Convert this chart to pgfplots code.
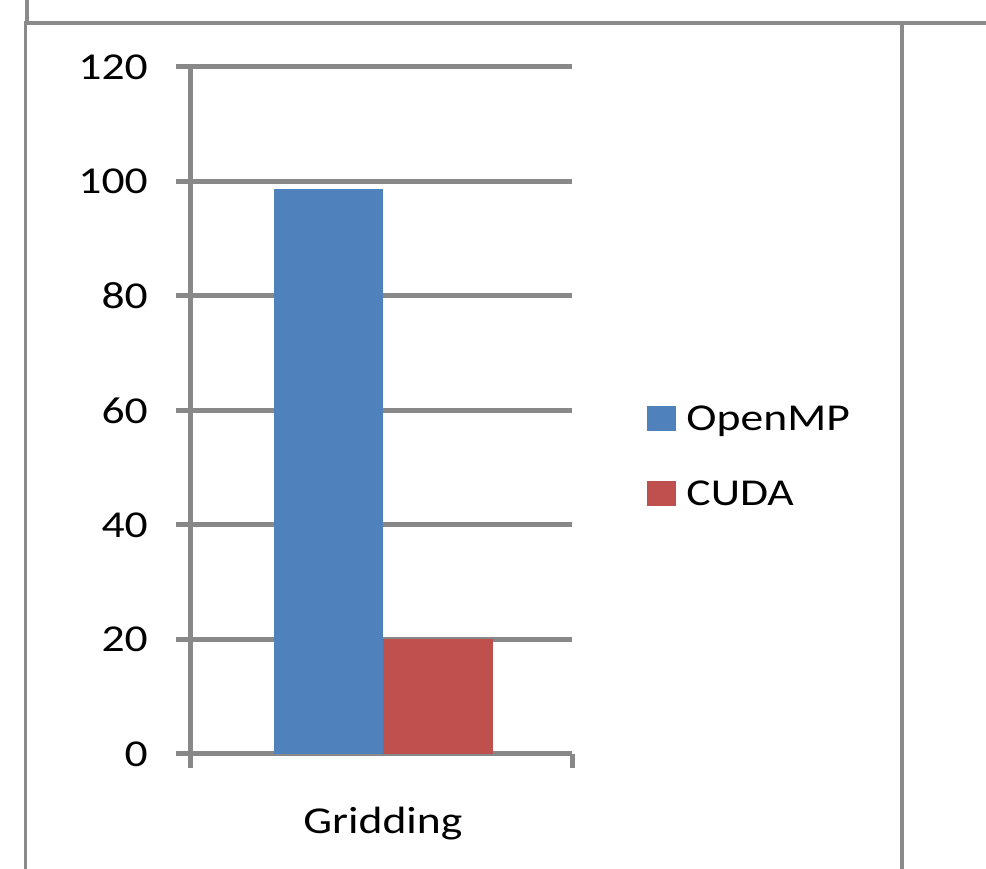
\documentclass[border=0pt]{standalone}
\usepackage{pgfplots}
\pgfplotsset{compat=1.18}
\usepackage{fontspec}
\setmainfont{Carlito}[FakeStretch=1.2]

\definecolor{framegray}{HTML}{8A8A8A}
\definecolor{axisgray}{HTML}{888888}
\definecolor{ompblue}{HTML}{4F81BD}
\definecolor{cudared}{HTML}{C0504D}

\begin{document}
\fontsize{38}{44}\selectfont
\begin{tikzpicture}[x=1pt,y=1pt]
  \useasboundingbox (0,0) rectangle (986,869);
  % surrounding frame
  \draw[framegray, line width=3.6pt] (24,846) -- (986,846);
  \draw[framegray, line width=3.6pt] (25.5,0) -- (25.5,847.8);
  \draw[framegray, line width=3.6pt] (27,846) -- (27,869);
  \draw[framegray, line width=3.6pt] (902,0) -- (902,847.8);

  \begin{axis}[
    at={(190pt,115pt)}, anchor=south west,
    scale only axis, width=382pt, height=687pt,
    xmin=-193, xmax=189, ymin=0, ymax=120,
    axis x line*=bottom, axis y line*=left,
    axis line style={axisgray, line width=5pt},
    ymajorgrids, grid style={axisgray, line width=5pt},
    ytick={0,20,...,120},
    xtick={-193,189}, xticklabels={},
    tick align=outside, major tick length=14pt,
    tick style={axisgray, line width=5pt},
    /pgf/number format/assume math mode=true,
    ticklabel style={font=\fontsize{38}{44}\selectfont},
    yticklabel style={anchor=east, inner sep=0pt, xshift=-28pt},
    xlabel={Gridding},
    xlabel style={at={(0.505,0)}, anchor=base, inner sep=0pt, yshift=-80pt,
      font=\fontsize{38}{44}\selectfont},
    ybar=0pt, bar width=109.5pt,
    legend style={draw=none, fill=none, inner sep=0pt, outer sep=0pt,
      at={(1.1963,0.5066)}, anchor=north west,
      font=\fontsize{38}{44}\selectfont,
      nodes={inner sep=0pt, text height=24pt, text depth=0pt},
      row sep=50pt, column sep=10.5pt},
    legend cell align=left,
    legend image code/.code={\path[#1] (0pt,-12.5pt) rectangle (29pt,12.5pt);},
  ]
    \addplot[fill=ompblue, draw=none] coordinates {(0,98.7)};
    \addplot[fill=cudared, draw=none] coordinates {(0,20.1)};
    \legend{OpenMP,CUDA}
  \end{axis}
\end{tikzpicture}
\end{document}
